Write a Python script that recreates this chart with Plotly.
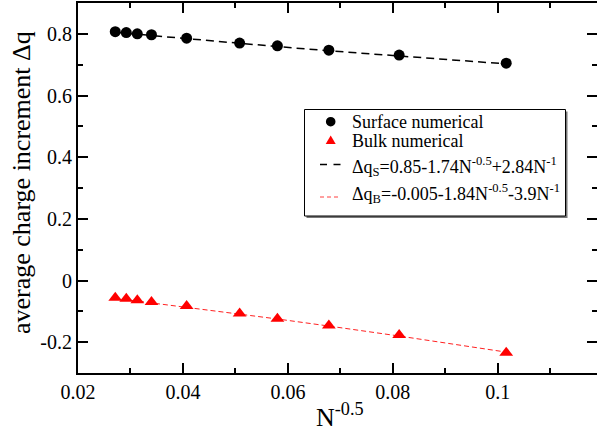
import plotly.graph_objects as go

# N^-0.5 positions
x_vals = [0.0271, 0.0292, 0.0313, 0.0340, 0.0407, 0.0508, 0.0580, 0.0678, 0.0812, 0.1016]
surface_vals = [0.807, 0.804, 0.800, 0.797, 0.786, 0.770, 0.761, 0.747, 0.731, 0.705]
bulk_vals = [-0.056, -0.059, -0.064, -0.070, -0.083, -0.107, -0.124, -0.146, -0.177, -0.234]
surface_fit = [0.8049, 0.8016, 0.7983, 0.7941, 0.7839, 0.7689, 0.7586, 0.7451, 0.7274, 0.7025]
bulk_fit = [-0.0577, -0.0621, -0.0664, -0.0721, -0.0864, -0.1085, -0.1248, -0.1477, -0.1801, -0.2322]

x_ticks = [0.02, 0.04, 0.06, 0.08, 0.1]
x_ticktext = ["0.02", "0.04", "0.06", "0.08", "0.1"]
y_ticks = [-0.2, 0, 0.2, 0.4, 0.6, 0.8]
y_ticktext = ["-0.2", "0", "0.2", "0.4", "0.6", "0.8"]

legend_labels = [
    "Surface numerical",
    "Bulk numerical",
    "Δq<sub>S</sub>=0.85-1.74N<sup>-0.5</sup>+2.84N<sup>-1</sup>",
    "Δq<sub>B</sub>=-0.005-1.84N<sup>-0.5</sup>-3.9N<sup>-1</sup>",
]

FONT = "Liberation Serif, Times New Roman, DejaVu Serif, serif"
W, H = 597, 429
ML, MR, MT, MB = 78, 0, 3, 56
PW, PH = W - ML - MR, H - MT - MB


def px(xpix):
    return (xpix - ML) / PW


def py(ypix):
    return (H - MB - ypix) / PH


fig = go.Figure()
fig.add_trace(go.Scatter(x=x_vals, y=surface_fit, mode="lines", name=legend_labels[2],
                         line=dict(color="black", width=1.5, dash="8px,5px")))
fig.add_trace(go.Scatter(x=x_vals, y=bulk_fit, mode="lines", name=legend_labels[3],
                         line=dict(color="#ff2020", width=1, dash="5px,3px")))
fig.add_trace(go.Scatter(x=x_vals, y=surface_vals, mode="markers", name=legend_labels[0],
                         marker=dict(symbol="circle", size=11, color="black")))
fig.add_trace(go.Scatter(x=x_vals, y=bulk_vals, mode="markers", name=legend_labels[1],
                         marker=dict(symbol="triangle-up", size=12, color="red")))

axis_common = dict(
    showline=True, linecolor="black", linewidth=2, mirror="ticks",
    ticks="inside", ticklen=10, tickwidth=1.5, tickcolor="black",
    showgrid=False, zeroline=False, automargin=False,
    tickfont=dict(family=FONT, size=20, color="black"),
)

fig.update_xaxes(
    range=[0.02, 0.1189], tickvals=x_ticks, ticktext=x_ticktext,
    minor=dict(ticks="inside", ticklen=5, tickwidth=1.5, tickcolor="black", dtick=0.01, tick0=0.01),
    **axis_common,
)
fig.update_yaxes(
    range=[-0.3, 0.9], tickvals=y_ticks, ticktext=y_ticktext,
    minor=dict(ticks="inside", ticklen=5, tickwidth=1.5, tickcolor="black", dtick=0.1, tick0=0),
    **axis_common,
)

# axis titles
fig.add_annotation(text="average charge increment Δq", xref="paper", yref="paper",
                   x=px(21), y=py(183), xanchor="center", yanchor="middle", textangle=-90,
                   showarrow=False, font=dict(family=FONT, size=26, color="black"))
fig.add_annotation(text="N<sup>-0.5</sup>", xref="paper", yref="paper",
                   x=px(340), y=py(397), xanchor="center", yanchor="top",
                   showarrow=False, font=dict(family=FONT, size=26, color="black"))

# legend box (drawn by hand to match the reference's compact layout)
box_l, box_r, box_t, box_b = 304.5, 565.5, 109.5, 216
fig.add_shape(type="rect", xref="paper", yref="paper", layer="above",
              x0=px(box_l + 2), x1=px(box_r + 2), y0=py(box_t + 2), y1=py(box_b + 2),
              fillcolor="#777777", line=dict(width=0))
fig.add_shape(type="rect", xref="paper", yref="paper", layer="above",
              x0=px(box_l), x1=px(box_r), y0=py(box_t), y1=py(box_b),
              fillcolor="white", line=dict(color="black", width=1))

sym_x = 330.7
row_y = [121.7, 140.5, 164.5, 197]
text_y = [121.7, 140.5, 166, 193]
fig.add_shape(type="circle", xref="paper", yref="paper", layer="above",
              xsizemode="pixel", ysizemode="pixel", xanchor=px(sym_x), yanchor=py(row_y[0]),
              x0=-4.8, x1=4.8, y0=-4.8, y1=4.8, fillcolor="black", line=dict(width=0))
fig.add_shape(type="path", xref="paper", yref="paper", layer="above",
              xsizemode="pixel", ysizemode="pixel", xanchor=px(sym_x), yanchor=py(row_y[1]),
              path="M -5,-3.5 L 5,-3.5 L 0,5 Z", fillcolor="red", line=dict(width=0))
fig.add_shape(type="line", xref="paper", yref="paper", layer="above",
              x0=px(320), x1=px(340.5), y0=py(row_y[2]), y1=py(row_y[2]),
              line=dict(color="black", width=1.5, dash="7px,6.5px"))
fig.add_shape(type="line", xref="paper", yref="paper", layer="above",
              x0=px(320), x1=px(340.5), y0=py(row_y[3]), y1=py(row_y[3]),
              line=dict(color="#ff4040", width=1, dash="4px,3px"))
for lab, ty in zip(legend_labels, text_y):
    fig.add_annotation(text=lab, xref="paper", yref="paper", x=px(350), y=py(ty),
                       xanchor="left", yanchor="middle", showarrow=False,
                       font=dict(family=FONT, size=18, color="black"))

fig.update_layout(
    width=W, height=H,
    margin=dict(l=ML, r=MR, t=MT, b=MB),
    plot_bgcolor="white", paper_bgcolor="white",
    font=dict(family=FONT, color="black"),
    showlegend=False,
)

fig.write_html("out.html", config={"displayModeBar": False},
               post_script="document.body.style.margin='0px';")
